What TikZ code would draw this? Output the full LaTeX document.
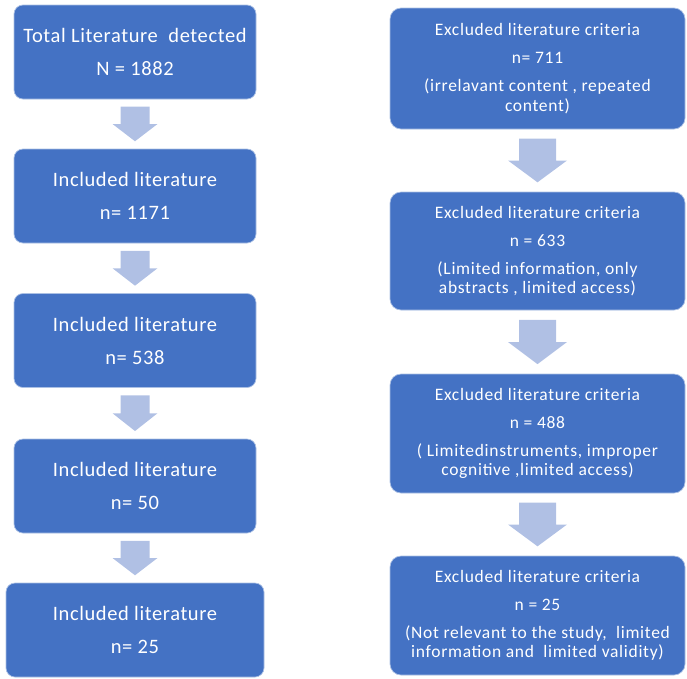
\documentclass[tikz,border=0pt]{standalone}
\usepackage{fontspec}
\setmainfont{Carlito}
\newfontfamily\leftfont[LetterSpace=3]{Carlito}
\newfontfamily\rightfont[LetterSpace=4]{Carlito}
\usetikzlibrary{calc}
\definecolor{boxblue}{RGB}{68,114,196}
\definecolor{arrowblue}{RGB}{176,192,228}
\tikzset{
  flowbox/.style={fill=boxblue, draw=white!55!boxblue, line width=0.7pt, rounded corners=9pt,
    text=white, align=center, inner sep=0pt},
  leftbox/.style={flowbox, minimum width=242pt, minimum height=94pt, font=\leftfont\fontsize{20.5}{33}\selectfont},
  rightbox/.style={flowbox, rounded corners=11pt, minimum width=295pt, font=\rightfont\fontsize{17.5}{19.5}\selectfont},
}
\newcommand\blockarrow[4]{%
  \fill[arrowblue] let \p1=(#1.south), \p2=(#2.north), \n1={\y1-\y2} in
    (\x1-#3, \y1-0.15*\n1) -- (\x1+#3, \y1-0.15*\n1) -- (\x1+#3, \y1-0.5*\n1)
    -- (\x1+#4, \y1-0.5*\n1) -- (\x1, \y2+0.15*\n1) -- (\x1-#4, \y1-0.5*\n1)
    -- (\x1-#3, \y1-0.5*\n1) -- cycle;
}
\begin{document}
\begin{tikzpicture}[x=1pt, y=-1pt]
\useasboundingbox (0,0) rectangle (687,678);
% left column
\node[leftbox] (l1) at (135,52) {Total Literature\ \ detected\\N = 1882};
\node[leftbox] (l2) at (135,196) {Included literature\\n= 1171};
\node[leftbox] (l3) at (135,340.5) {Included literature\\n= 538};
\node[leftbox] (l4) at (135,486) {Included literature\\n= 50};
\node[leftbox, minimum width=258pt] (l5) at (135,630) {Included literature\\n= 25};
% right column
\node[rightbox, minimum height=121pt] (r1) at (537.5,68.5)
  {Excluded literature criteria\\[8.5pt]n= 711\\[8.5pt](irrelavant content , repeated\\content)};
\node[rightbox, minimum height=118pt] (r2) at (537.5,251)
  {Excluded literature criteria\\[8.5pt]n = 633\\[8.5pt](Limited information, only\\abstracts , limited access)};
\node[rightbox, minimum height=119pt] (r3) at (537.5,433.5)
  {Excluded literature criteria\\[8.5pt]n = 488\\[8.5pt]( Limitedinstruments, improper\\cognitive ,limited access)};
\node[rightbox, minimum height=119pt] (r4) at (537.5,615.5)
  {Excluded literature criteria\\[8.5pt]n = 25\\[8.5pt](Not relevant to the study,\ \ limited\\information and\ \ limited validity)};
% arrows
\blockarrow{l1}{l2}{14.5pt}{22.5pt}
\blockarrow{l2}{l3}{14.5pt}{22.5pt}
\blockarrow{l3}{l4}{14.5pt}{22.5pt}
\blockarrow{l4}{l5}{14.5pt}{22.5pt}
\blockarrow{r1}{r2}{18.5pt}{29.5pt}
\blockarrow{r2}{r3}{18.5pt}{29.5pt}
\blockarrow{r3}{r4}{18.5pt}{29.5pt}
\end{tikzpicture}
\end{document}
